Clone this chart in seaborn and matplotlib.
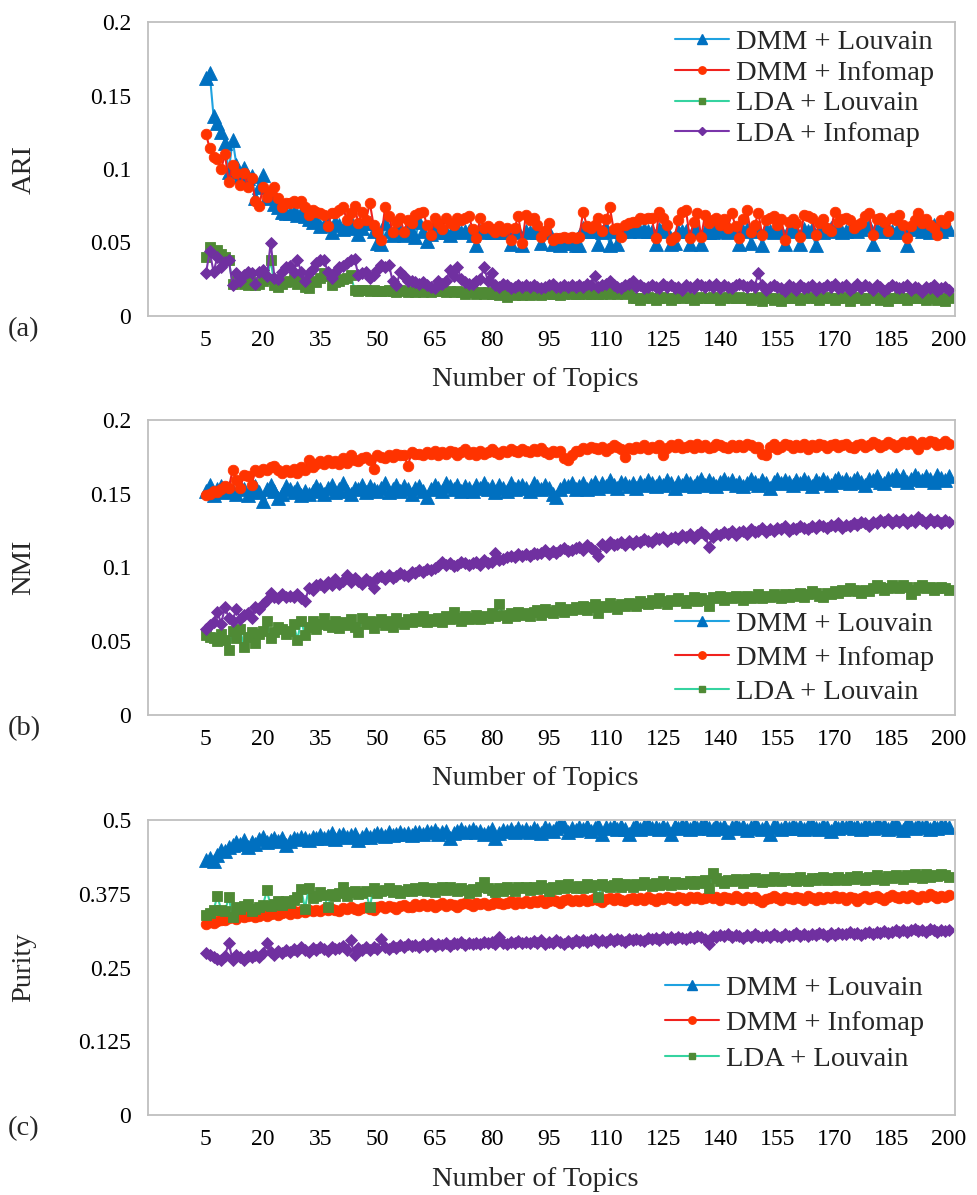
import numpy as np
import pandas as pd
import seaborn as sns
import matplotlib
matplotlib.use("Agg")
import matplotlib.pyplot as plt
from matplotlib.lines import Line2D

# ---------------- data (values in thousandths) ----------------
TOPICS = list(range(5, 201))
X_TICKS = list(range(5, 201, 15))
X_TICK_LABELS = [str(t) for t in X_TICKS]

SERIES = ["DMM + Louvain", "DMM + Infomap", "LDA + Louvain", "LDA + Infomap"]

ARI_Y_TICKS = [0, 0.05, 0.1, 0.15, 0.2]
ARI_Y_LABELS = ["0", "0.05", "0.1", "0.15", "0.2"]
NMI_Y_TICKS = [0, 0.05, 0.1, 0.15, 0.2]
NMI_Y_LABELS = ["0", "0.05", "0.1", "0.15", "0.2"]
PUR_Y_TICKS = [0, 0.125, 0.25, 0.375, 0.5]
PUR_Y_LABELS = ["0", "0.125", "0.25", "0.375", "0.5"]

# (a) ARI
ARI_DMM_LOUVAIN = [
    162,165,136,131,125,118,98,120,103,95,101,94,95,80,
    88,96,81,80,76,74,71,70,70,71,69,70,68,66,
    64,65,61,62,63,57,64,62,59,61,64,60,56,60,
    63,63,58,50,49,63,58,55,59,58,55,61,57,54,
    64,58,51,56,61,57,59,57,55,58,59,57,58,58,
    55,48,58,57,58,57,57,58,57,57,49,57,58,48,
    58,57,58,57,50,58,57,49,50,48,50,50,51,48,
    48,60,58,58,60,49,57,60,48,58,49,58,59,58,
    60,59,58,59,58,58,49,59,60,58,49,50,58,58,
    58,49,59,58,49,58,57,57,59,60,58,57,58,59,
    49,58,59,50,60,58,48,59,58,57,58,58,49,59,
    60,58,49,59,58,59,48,58,57,59,60,58,59,57,
    58,59,60,58,59,62,61,49,59,58,60,59,58,57,
    60,59,48,59,61,60,58,59,57,62,60,58,60,59,
]
ARI_DMM_INFOMAP = [
    124,114,108,107,100,110,91,103,97,89,97,88,94,78,
    75,88,81,85,88,80,74,77,77,78,77,78,74,69,
    72,71,70,69,61,70,70,72,74,65,70,75,63,71,
    65,77,62,57,52,74,68,57,64,67,57,65,63,69,
    70,71,62,55,67,63,59,67,63,62,67,65,67,68,
    59,53,67,60,61,59,57,61,58,60,52,60,68,50,
    69,65,67,62,54,58,63,52,53,53,54,53,54,53,
    54,71,61,60,62,67,58,66,74,59,60,54,62,63,
    64,64,67,66,67,67,53,71,67,62,52,54,65,71,
    72,53,64,70,54,69,63,65,67,62,66,60,70,61,
    53,66,72,57,62,70,55,65,67,68,62,66,52,64,
    66,63,54,69,68,67,55,63,66,60,58,71,64,66,
    67,65,60,62,63,68,70,55,66,67,64,58,67,65,
    69,62,53,61,65,70,63,66,62,60,55,65,63,68,
]
ARI_LDA_LOUVAIN = [
    40,47,44,45,42,40,38,22,24,23,22,21,23,21,
    22,24,25,38,21,20,22,23,24,25,22,23,20,19,
    24,23,26,29,27,21,23,24,25,26,28,18,17,18,
    18,17,18,17,17,17,18,17,16,18,17,16,17,16,
    17,16,17,16,17,18,17,16,17,16,17,16,15,16,
    16,15,16,15,16,15,15,14,15,13,15,14,15,14,
    15,14,15,15,14,15,16,15,15,14,15,16,15,15,
    15,16,15,15,16,15,15,16,15,16,15,16,15,16,
    12,12,11,12,13,12,11,12,13,12,11,12,13,12,
    13,12,11,12,13,12,12,13,12,11,12,13,12,12,
    13,12,12,11,12,13,10,12,12,11,12,10,12,12,
    13,12,11,12,13,12,12,11,12,13,12,11,12,13,
    12,10,12,13,12,11,12,13,12,11,12,10,12,12,
    13,12,11,12,12,13,12,11,12,12,11,12,10,12,
]
ARI_LDA_INFOMAP = [
    29,44,30,40,33,37,38,21,29,24,28,30,29,22,
    30,31,27,50,26,25,30,33,34,30,38,30,24,29,
    32,36,38,38,30,26,30,33,34,36,38,39,28,29,
    30,26,28,31,35,33,35,24,21,30,27,24,24,23,
    22,23,21,20,19,24,22,24,31,27,33,25,23,22,
    22,24,25,33,24,29,21,20,22,21,19,20,21,20,
    21,20,21,20,19,20,21,22,20,20,21,20,21,20,
    21,20,22,21,27,20,21,22,24,21,20,19,21,22,
    24,20,21,19,20,21,20,19,22,20,21,19,20,18,
    21,20,19,22,21,20,21,20,22,19,21,20,19,21,
    22,21,20,21,20,29,21,18,20,21,20,19,17,21,
    20,18,21,19,20,21,18,20,19,21,20,22,19,20,
    21,18,20,22,19,21,20,18,21,20,17,19,21,20,
    19,20,21,18,20,19,16,20,19,21,17,19,20,18,
]

# (b) NMI
NMI_DMM_LOUVAIN = [
    152,156,149,153,155,151,154,152,150,155,153,149,152,155,
    151,145,153,156,152,147,150,155,153,151,154,149,152,150,
    152,155,153,150,154,156,151,153,157,152,150,154,153,156,
    151,155,153,152,154,157,151,153,156,152,155,153,150,154,
    155,152,148,153,156,154,152,157,155,153,156,152,155,154,
    152,156,154,157,153,155,151,156,154,152,157,153,155,156,
    154,152,157,155,153,156,154,150,148,153,156,155,157,153,
    155,157,153,156,158,154,157,155,159,156,154,158,157,155,
    157,154,158,156,159,157,155,158,156,159,157,154,158,156,
    159,157,155,158,160,156,159,157,155,158,160,157,159,156,
    158,155,157,160,158,156,159,157,154,158,160,157,159,158,
    156,159,157,160,158,155,159,157,160,158,156,159,161,158,
    160,157,159,161,158,156,160,159,162,158,157,161,160,163,
    159,162,158,160,163,161,159,162,160,158,163,161,159,162,
]
NMI_DMM_INFOMAP = [
    149,150,152,151,153,155,154,166,159,154,163,162,156,166,
    165,167,166,168,169,166,164,166,165,167,164,168,166,173,
    168,170,172,170,173,171,172,170,174,171,176,173,172,174,
    175,173,167,176,175,174,176,175,177,176,176,169,178,177,
    177,176,178,177,179,176,178,177,179,178,176,178,180,177,
    178,176,179,177,178,180,178,177,179,178,180,179,178,180,
    179,178,180,179,181,178,177,179,178,179,174,173,176,179,
    179,181,180,182,181,180,182,179,181,183,182,180,175,181,
    180,182,181,183,180,182,181,183,176,181,183,182,184,181,
    182,183,181,184,182,183,181,182,184,183,182,181,183,182,
    183,182,184,183,181,182,177,176,182,184,180,182,184,183,
    181,183,182,184,180,183,182,184,183,181,183,184,182,183,
    184,182,181,183,184,182,183,185,184,182,183,185,184,182,
    183,185,184,186,183,180,185,184,186,185,183,184,186,184,
]
NMI_LDA_LOUVAIN = [
    54,53,52,50,55,51,44,57,52,58,46,53,56,49,
    55,57,64,52,56,60,58,55,57,62,51,64,54,60,
    64,58,62,66,61,60,64,59,63,61,65,60,56,66,
    62,64,59,63,65,61,64,60,66,63,62,65,63,66,
    64,67,63,65,64,66,63,67,65,70,66,64,67,65,
    66,68,65,67,66,69,67,75,68,66,69,67,70,68,
    69,67,70,71,68,72,70,69,71,73,70,72,71,73,
    72,74,71,73,75,69,74,73,76,74,72,75,74,76,
    75,74,77,76,75,78,76,79,77,75,78,77,79,78,
    76,78,80,77,79,78,74,80,79,81,78,80,79,81,
    80,78,81,79,80,82,79,81,80,82,81,79,82,80,
    82,81,83,80,82,84,83,81,80,83,82,84,83,85,
    84,86,85,84,83,85,84,86,88,87,85,86,88,87,
    86,88,87,82,85,87,88,86,87,85,86,87,86,85,
]
NMI_LDA_INFOMAP = [
    58,61,63,70,62,73,66,64,72,65,68,69,66,73,
    72,75,78,83,80,79,82,80,81,80,82,79,77,86,
    85,88,89,87,90,88,92,89,91,95,90,93,91,89,
    92,90,86,93,94,92,95,93,94,96,95,94,97,96,
    98,97,99,98,100,101,104,102,103,101,102,104,103,102,
    103,104,102,105,103,104,110,105,106,107,108,107,109,108,
    109,108,110,109,110,112,109,111,110,112,113,111,112,113,
    114,112,115,113,111,108,116,114,117,115,116,117,115,118,
    116,118,117,119,118,117,120,119,121,118,120,121,119,122,
    121,123,120,122,124,122,114,121,123,122,124,123,125,122,
    124,125,123,126,124,125,127,124,126,125,127,126,128,125,
    127,126,128,127,126,128,127,129,128,127,129,128,130,127,
    129,128,130,129,131,130,128,131,130,132,131,133,130,132,
    131,133,130,132,131,134,132,130,133,131,132,130,132,131,
]

# (c) Purity
PUR_DMM_LOUVAIN = [
    432,436,430,441,449,447,455,458,462,459,466,455,463,460,
    468,471,462,466,470,464,469,458,465,470,468,472,470,466,
    472,469,475,470,473,478,468,475,477,471,474,476,466,472,
    477,471,474,478,476,473,479,475,477,480,476,478,474,479,
    480,477,481,479,483,476,480,482,469,478,481,484,479,482,
    485,479,482,476,480,484,470,478,483,481,485,479,487,482,
    484,480,486,483,478,488,485,482,487,495,489,480,486,483,
    488,485,490,482,487,491,477,488,486,490,485,489,484,477,
    487,491,485,489,493,486,488,484,490,486,477,489,487,491,
    489,485,492,487,490,494,486,484,491,487,489,480,488,492,
    486,490,483,488,493,487,485,490,476,492,488,484,490,487,
    492,486,490,485,489,494,487,484,491,488,481,489,486,490,
    488,493,487,490,485,491,489,486,494,488,491,484,490,493,
    487,483,495,489,486,491,488,492,485,490,487,491,489,488,
]
PUR_DMM_INFOMAP = [
    324,327,326,329,331,330,334,336,333,338,335,337,339,336,
    338,341,337,340,343,339,342,344,341,345,343,346,344,347,
    345,348,346,349,347,350,348,346,351,349,352,350,347,351,
    353,350,348,352,354,351,355,353,350,354,356,353,352,357,
    355,358,354,357,352,356,359,355,358,356,353,358,360,357,
    355,359,357,360,356,358,361,359,357,360,362,358,361,359,
    362,360,363,361,364,359,362,365,363,360,364,366,362,365,
    363,366,362,365,367,364,361,366,368,364,367,365,362,366,
    368,364,367,365,369,366,363,368,366,370,367,364,369,367,
    365,369,367,370,366,368,371,367,369,365,370,368,366,371,
    368,365,370,367,369,364,361,366,368,371,367,365,370,368,
    366,370,368,365,371,367,364,369,366,370,368,372,367,369,
    365,370,367,363,368,371,366,369,372,368,365,370,373,369,
    367,371,368,373,370,366,372,369,374,371,368,372,370,373,
]
PUR_LDA_LOUVAIN = [
    339,343,347,371,348,345,369,335,352,350,354,357,345,349,
    352,356,381,354,358,363,356,362,360,365,370,383,350,384,
    368,371,378,373,352,375,371,376,386,372,378,380,375,377,
    379,352,384,376,380,382,385,378,381,376,380,383,379,385,
    382,386,380,384,378,383,386,381,387,383,379,385,381,377,
    383,379,386,395,384,381,378,385,380,387,383,380,386,384,
    387,382,386,383,389,384,380,386,383,389,385,391,387,384,
    388,385,391,386,389,370,392,388,386,390,393,387,391,389,
    386,392,389,395,391,388,394,390,396,392,389,395,393,391,
    394,397,392,396,393,399,384,410,401,397,394,399,396,400,
    398,394,400,396,402,398,395,400,397,403,399,396,401,398,
    401,397,403,399,396,402,398,401,404,399,402,398,403,400,
    398,403,400,405,401,398,404,400,406,402,399,405,402,406,
    403,400,407,404,409,405,402,408,404,407,405,409,406,404,
]
PUR_LDA_INFOMAP = [
    274,271,268,265,263,270,292,262,272,268,263,270,267,272,
    268,275,292,276,272,278,274,280,276,282,278,284,280,277,
    283,279,285,281,278,284,281,283,286,279,296,272,283,280,
    284,279,285,281,298,284,282,286,283,288,284,290,286,288,
    285,289,287,291,286,290,288,292,287,291,289,293,288,291,
    290,292,289,294,291,293,289,302,292,290,294,291,295,292,
    294,291,295,292,296,290,294,292,296,293,290,295,292,296,
    294,297,293,296,299,294,297,293,298,295,299,296,294,298,
    296,299,297,295,300,298,300,297,302,299,301,298,302,300,
    299,302,300,304,301,299,289,303,302,305,303,306,302,305,
    303,300,305,302,306,303,301,305,302,307,304,301,306,303,
    305,308,304,306,303,307,305,309,306,304,308,305,309,307,
    306,310,307,309,305,308,311,307,310,308,312,309,311,313,
    310,314,311,313,316,312,314,311,315,313,310,314,312,313,
]

# ---------------- styling ----------------
sns.set_style("white")
plt.rcParams["font.family"] = ["Liberation Serif", "DejaVu Serif"]

STYLE = {
    "DMM + Louvain": dict(marker="^", mcolor="#0070C0", lcolor="#1FA2E0", ms=9.4),
    "DMM + Infomap": dict(marker="o", mcolor="#FF3300", lcolor="#F0221E", ms=7.6),
    "LDA + Louvain": dict(marker="s", mcolor="#4F8A35", lcolor="#35D3A0", ms=6.6),
    "LDA + Infomap": dict(marker="D", mcolor="#7030A0", lcolor="#7A35AA", ms=6.0),
}
GRAY = "#BFBFBF"

W, H = 978, 1195
fig = plt.figure(figsize=(W / 100, H / 100), dpi=100)


def px_axes(l, t, r, b):
    return fig.add_axes([l / W, 1 - b / H, (r - l) / W, (b - t) / H])


panels = [
    dict(ax=px_axes(148, 22, 955, 316), data=[ARI_DMM_LOUVAIN, ARI_DMM_INFOMAP, ARI_LDA_LOUVAIN, ARI_LDA_INFOMAP],
         yt=ARI_Y_TICKS, yl=ARI_Y_LABELS, ylabel="ARI", tag="(a)", leg=SERIES,
         leg_pos=(675, 29), leg_sp=0.17),
    dict(ax=px_axes(148, 420, 955, 715), data=[NMI_DMM_LOUVAIN, NMI_DMM_INFOMAP, NMI_LDA_LOUVAIN, NMI_LDA_INFOMAP],
         yt=NMI_Y_TICKS, yl=NMI_Y_LABELS, ylabel="NMI", tag="(b)", leg=SERIES[:3],
         leg_pos=(675, 611), leg_sp=0.28),
    dict(ax=px_axes(148, 820, 955, 1115), data=[PUR_DMM_LOUVAIN, PUR_DMM_INFOMAP, PUR_LDA_LOUVAIN, PUR_LDA_INFOMAP],
         yt=PUR_Y_TICKS, yl=PUR_Y_LABELS, ylabel="Purity", tag="(c)", leg=SERIES[:3],
         leg_pos=(665, 975), leg_sp=0.33),
]

for p in panels:
    ax = p["ax"]
    for name, vals in zip(SERIES, p["data"]):
        st = STYLE[name]
        y = np.asarray(vals, dtype=float) / 1000.0
        df = pd.DataFrame({"topics": TOPICS, "value": y})
        sns.lineplot(data=df, x="topics", y="value", ax=ax, color=st["lcolor"],
                     linewidth=1.5, marker=st["marker"], markersize=st["ms"],
                     markerfacecolor=st["mcolor"], markeredgecolor=st["mcolor"],
                     markeredgewidth=0.6, errorbar=None, legend=False)
    ax.set_xlim(-10.2, 201.6)
    ax.set_xticks([-10] + X_TICKS)
    ax.set_xticklabels([""] + X_TICK_LABELS)
    ax.set_ylim(p["yt"][0], p["yt"][-1])
    ax.set_yticks(p["yt"])
    ax.set_yticklabels(p["yl"])
    ax.set_xlabel("")
    ax.set_ylabel("")
    for s in ax.spines.values():
        s.set_visible(True)
        s.set_color(GRAY)
        s.set_linewidth(1.3)
    ax.tick_params(axis="both", direction="out", length=7, width=1.2, color=GRAY,
                   labelsize=17, labelcolor="black")
    ax.tick_params(axis="x", pad=3)
    ax.tick_params(axis="y", pad=5)

    handles = []
    for name in p["leg"]:
        st = STYLE[name]
        handles.append(Line2D([], [], color=st["lcolor"], linewidth=1.5, marker=st["marker"],
                              markersize=st["ms"] * 0.7, markerfacecolor=st["mcolor"],
                              markeredgecolor=st["mcolor"]))
    lx, ly = p["leg_pos"]
    ax.legend(handles, p["leg"], loc="upper left", bbox_to_anchor=(lx / W, 1 - ly / H),
              bbox_transform=fig.transFigure, frameon=False, fontsize=20.5,
              handlelength=1.9, handletextpad=0.25, labelspacing=p["leg_sp"],
              borderpad=0, borderaxespad=0)

    # axis titles and panel tag (pixel positions)
    bbox = ax.get_position()
    top_px = (1 - bbox.y1) * H
    bot_px = (1 - bbox.y0) * H
    fig.text(24 / W, 1 - ((top_px + bot_px) / 2) / H, p["ylabel"], rotation=90,
             ha="center", va="center", fontsize=20.5)
    fig.text(8 / W, 1 - (bot_px + 14) / H, p["tag"], ha="left", va="center", fontsize=20.5)
    fig.text(535 / W, 1 - (bot_px + 64) / H, "Number of Topics", ha="center", va="center", fontsize=20.5)

fig.savefig("out.png", dpi=100)
